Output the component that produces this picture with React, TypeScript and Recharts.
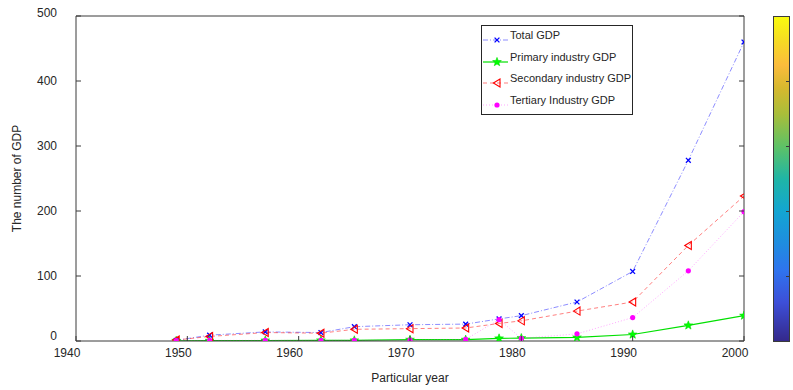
import { Legend, Line, LineChart, XAxis, YAxis } from "recharts";

const years = [1949, 1952, 1957, 1962, 1965, 1970, 1975, 1978, 1980, 1985, 1990, 1995, 2000];
const totalGdp = [1, 9, 14, 13, 22, 25, 26, 34, 39, 60, 107, 278, 460];
const primaryGdp = [0.3, 0.5, 0.8, 1, 1, 2, 2, 4, 4.5, 5.5, 10, 24, 39];
const secondaryGdp = [1.5, 7, 13, 12, 18, 19, 20, 27, 31, 46, 60, 147, 223];
const tertiaryGdp = [0.5, 1, 1, 1, 1, 1.5, 2.5, 33, 4, 11, 36, 108, 199];

const xTicks = [1940, 1950, 1960, 1970, 1980, 1990, 2000];
const yTicks = [0, 100, 200, 300, 400, 500];
const seriesOrder = ["total", "primary", "secondary", "tertiary"];

const data = years.map((year, i) => ({
  year,
  total: totalGdp[i],
  primary: primaryGdp[i],
  secondary: secondaryGdp[i],
  tertiary: tertiaryGdp[i],
}));

const FONT = '"Liberation Sans", Arial, sans-serif';
const AXIS = "#3a3a3a";
const TEXT = "#262626";

// markers -------------------------------------------------------------
function Cross({ cx, cy }: { cx: number; cy: number }) {
  const s = 2.4;
  return (
    <g stroke="#0000ff" strokeWidth={1.3}>
      <line x1={cx - s} y1={cy - s} x2={cx + s} y2={cy + s} />
      <line x1={cx - s} y1={cy + s} x2={cx + s} y2={cy - s} />
    </g>
  );
}

function Star({ cx, cy }: { cx: number; cy: number }) {
  const pts: string[] = [];
  for (let k = 0; k < 10; k++) {
    const r = k % 2 === 0 ? 4.6 : 1.9;
    const a = -Math.PI / 2 + (k * Math.PI) / 5;
    pts.push(`${cx + r * Math.cos(a)},${cy + r * Math.sin(a)}`);
  }
  return <polygon points={pts.join(" ")} fill="#00ff00" stroke="#00dd00" strokeWidth={0.6} />;
}

function LeftTri({ cx, cy }: { cx: number; cy: number }) {
  return (
    <polygon
      points={`${cx - 3.6},${cy} ${cx + 3},${cy - 4} ${cx + 3},${cy + 4}`}
      fill="none"
      stroke="#ff0000"
      strokeWidth={1.1}
    />
  );
}

function Dot({ cx, cy }: { cx: number; cy: number }) {
  return <circle cx={cx} cy={cy} r={2.6} fill="#ff00ff" />;
}

const markers: Record<string, (p: { cx: number; cy: number }) => JSX.Element> = {
  total: Cross,
  primary: Star,
  secondary: LeftTri,
  tertiary: Dot,
};

const dotOf = (key: string) => (p: any) => {
  const M = markers[key];
  return <M key={`${key}-${p.index}`} cx={p.cx} cy={p.cy} />;
};

// ticks (drawn inward, matlab style) ----------------------------------
function BottomTick({ x, y, payload }: any) {
  return (
    <g>
      <line x1={x} y1={y} x2={x} y2={y - 5} stroke={AXIS} />
      <text x={x - 9} y={y + 16} textAnchor="middle" fontSize={12} fill={TEXT} fontFamily={FONT}>
        {payload.value}
      </text>
    </g>
  );
}

function LeftTick({ x, y, payload }: any) {
  // end labels sit a little above their ticks in the original
  const lift = payload.value === 0 ? -5 : payload.value === 500 ? -3 : 0;
  return (
    <g>
      <line x1={x} y1={y} x2={x + 5} y2={y} stroke={AXIS} />
      <text x={x - 19} y={y + 4 + lift} textAnchor="end" fontSize={12} fill={TEXT} fontFamily={FONT}>
        {payload.value}
      </text>
    </g>
  );
}

function TopTick({ x, y }: any) {
  return <line x1={x} y1={y} x2={x} y2={y + 5} stroke={AXIS} />;
}

function RightTick({ x, y }: any) {
  return <line x1={x} y1={y} x2={x - 5} y2={y} stroke={AXIS} />;
}

// legend --------------------------------------------------------------
function LegendBox({ payload }: any) {
  const items = [...(payload || [])].sort(
    (a: any, b: any) => seriesOrder.indexOf(a.dataKey) - seriesOrder.indexOf(b.dataKey)
  );
  return (
    <div
      style={{
        width: 152,
        height: 90,
        border: `1px solid ${TEXT}`,
        background: "#fff",
        boxSizing: "border-box",
        fontFamily: FONT,
        fontSize: 11,
        color: TEXT,
        paddingTop: 1,
      }}
    >
      {items.map((entry: any) => {
        const M = markers[entry.dataKey];
        const lp = entry.payload || {};
        return (
          <div key={entry.dataKey} style={{ display: "flex", alignItems: "center", height: 21.7 }}>
            <svg width={28} height={14} style={{ flex: "none" }}>
              <line
                x1={1}
                y1={9}
                x2={26}
                y2={9}
                stroke={lp.stroke}
                strokeOpacity={lp.strokeOpacity ?? 1}
                strokeWidth={lp.strokeWidth}
                strokeDasharray={lp.strokeDasharray}
              />
              <M cx={15} cy={9} />
            </svg>
            <span style={{ marginTop: -6 }}>{entry.value}</span>
          </div>
        );
      })}
    </div>
  );
}

// colorbar ------------------------------------------------------------
const parulaStops = [
  ["0", "#f9fb0e"],
  ["0.07", "#f6dd22"],
  ["0.15", "#fbbc3c"],
  ["0.22", "#d6b82e"],
  ["0.3", "#a9be3a"],
  ["0.4", "#5ec266"],
  ["0.5", "#1fb5a6"],
  ["0.6", "#13a5d2"],
  ["0.7", "#1f8ce0"],
  ["0.78", "#2f74ee"],
  ["0.88", "#3d4fd8"],
  ["1", "#34288a"],
];

function ColorBar() {
  const h = 325;
  return (
    <svg width={18} height={h + 2} style={{ position: "absolute", left: 773, top: 16 }}>
      <defs>
        <linearGradient id="parula" x1="0" y1="0" x2="0" y2="1">
          {parulaStops.map(([o, c]) => (
            <stop key={o} offset={o} stopColor={c} />
          ))}
        </linearGradient>
      </defs>
      <rect x={0.5} y={0.5} width={16} height={h} fill="url(#parula)" stroke={AXIS} />
      {[0.2, 0.4, 0.6, 0.8].map((f) => (
        <line key={f} x1={16.5} x2={13} y1={0.5 + f * h} y2={0.5 + f * h} stroke={AXIS} />
      ))}
    </svg>
  );
}

export default function App() {
  return (
    <div style={{ position: "absolute", left: 0, top: 0, width: 793, height: 390, background: "#fff" }}>
      <LineChart
        width={793}
        height={390}
        data={data}
        margin={{ top: 15, right: 48, bottom: 17, left: 0 }}
        style={{ fontFamily: FONT }}
      >
        <XAxis
          dataKey="year"
          type="number"
          domain={[1940, 2000]}
          ticks={xTicks}
          interval={0}
          allowDataOverflow
          height={32}
          stroke={AXIS}
          tickSize={0}
          tickMargin={0}
          tickLine={false}
          tick={<BottomTick />}
          label={{ value: "Particular year", position: "bottom", offset: 0, fill: TEXT, fontSize: 12 }}
        />
        <XAxis
          xAxisId="top"
          orientation="top"
          type="number"
          domain={[1940, 2000]}
          ticks={xTicks}
          interval={0}
          allowDataOverflow
          height={1}
          stroke={AXIS}
          tickSize={0}
          tickMargin={0}
          tickLine={false}
          tick={<TopTick />}
        />
        <YAxis
          type="number"
          domain={[0, 500]}
          ticks={yTicks}
          interval={0}
          allowDataOverflow
          width={76}
          stroke={AXIS}
          tickSize={0}
          tickMargin={0}
          tickLine={false}
          tick={<LeftTick />}
          label={{
            value: "The number of GDP",
            angle: -90,
            position: "insideLeft",
            offset: 17,
            fill: TEXT,
            fontSize: 12,
            style: { textAnchor: "middle" },
          }}
        />
        <YAxis
          yAxisId="right"
          orientation="right"
          type="number"
          domain={[0, 500]}
          ticks={yTicks}
          interval={0}
          allowDataOverflow
          width={1}
          stroke={AXIS}
          tickSize={0}
          tickMargin={0}
          tickLine={false}
          tick={<RightTick />}
        />
        <Legend
          layout="vertical"
          align="center"
          verticalAlign="middle"
          wrapperStyle={{ left: 481, top: 25, width: 152, height: 90 }}
          content={<LegendBox />}
        />
        <Line
          dataKey="total"
          name="Total GDP"
          stroke="#0000ff"
          strokeOpacity={0.45}
          strokeWidth={1}
          strokeDasharray="5 2 1 2"
          dot={dotOf("total")}
          isAnimationActive={false}
        />
        <Line
          dataKey="primary"
          name="Primary industry GDP"
          stroke="#00e000"
          strokeWidth={1.2}
          dot={dotOf("primary")}
          isAnimationActive={false}
        />
        <Line
          dataKey="secondary"
          name="Secondary industry GDP"
          stroke="#ff0000"
          strokeOpacity={0.5}
          strokeWidth={1}
          strokeDasharray="4 3"
          dot={dotOf("secondary")}
          isAnimationActive={false}
        />
        <Line
          dataKey="tertiary"
          name="Tertiary Industry GDP"
          stroke="#ff00ff"
          strokeOpacity={0.35}
          strokeWidth={1}
          strokeDasharray="1 2"
          dot={dotOf("tertiary")}
          isAnimationActive={false}
        />
      </LineChart>
      <ColorBar />
    </div>
  );
}
